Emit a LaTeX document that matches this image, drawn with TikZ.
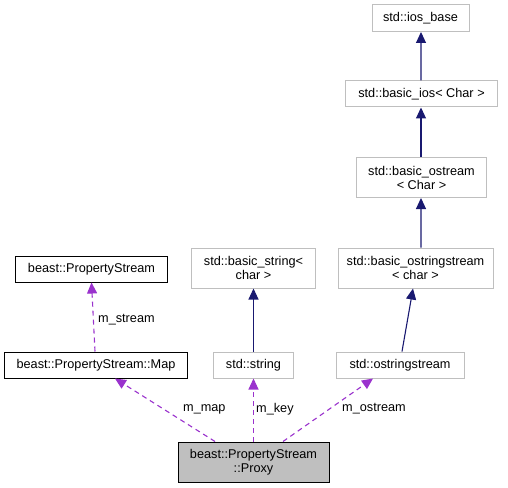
\documentclass[tikz,border=0pt]{standalone}
\usepackage{fontspec}
\setmainfont{Liberation Sans}
\usetikzlibrary{arrows.meta,calc}
\definecolor{edgeblue}{HTML}{191970}
\definecolor{edgepurple}{HTML}{9A32CD}
\definecolor{boxgray}{HTML}{BFBFBF}
\begin{document}
\begin{tikzpicture}[x=1bp,y=-1bp,
  box/.style={rectangle, inner sep=0pt, align=center, font=\fontsize{12.7bp}{14bp}\selectfont, line width=1bp},
  gbox/.style={box, draw=boxgray},
  kbox/.style={box, draw=black},
  inh/.style={draw=edgeblue, line width=1.1bp, -{Triangle[length=11bp,width=10bp,fill=edgeblue]}},
  use/.style={draw=edgepurple, line width=1.1bp, dash pattern=on 5bp off 4bp, -{Triangle[length=11bp,width=10bp,fill=edgepurple]}},
  lbl/.style={font=\fontsize{12.7bp}{14bp}\selectfont, inner sep=0pt, anchor=west}]
\useasboundingbox (0,0) rectangle (508,488);
% nodes
\node[gbox, minimum width=97bp, minimum height=27bp] (ios) at (420.5,18) {std::ios\_base};
\node[gbox, minimum width=152bp, minimum height=26bp] (bios) at (421.5,94) {std::basic\_ios< Char >};
\node[gbox, minimum width=130bp, minimum height=40bp] (bost) at (421.5,177.5) {std::basic\_ostream\\< Char >};
\node[gbox, minimum width=155bp, minimum height=40bp] (bostr) at (415.5,268) {std::basic\_ostringstream\\< char >};
\node[gbox, minimum width=128bp, minimum height=26bp] (ostr) at (400,365) {std::ostringstream};
\node[gbox, minimum width=124bp, minimum height=40bp] (bstr) at (253.5,268) {std::basic\_string<\\char >};
\node[gbox, minimum width=80bp, minimum height=26bp] (str) at (253.5,365) {std::string};
\node[kbox, minimum width=151bp, minimum height=26bp] (ps) at (91.5,269) {beast::PropertyStream};
\node[kbox, minimum width=182bp, minimum height=26bp] (map) at (96,365) {beast::PropertyStream::Map};
\node[kbox, fill=boxgray, minimum width=151bp, minimum height=40bp] (proxy) at (253.5,462) {beast::PropertyStream\\::Proxy};
% inheritance edges
\draw[inh] ([xshift=-0.5bp]bios.north) -- ([xshift=0.5bp]ios.south);
\draw[inh] ([xshift=-0.5bp]bost.north) -- ([xshift=-0.5bp]bios.south);
\draw[inh] ([xshift=5.5bp]bostr.north) -- ([xshift=-0.5bp]bost.south);
\draw[inh] ([xshift=2bp]ostr.north) -- ([xshift=-2.5bp]bostr.south);
\draw[inh] (str.north) -- (bstr.south);
% usage edges
\draw[use] ([xshift=-1bp]map.north) -- (ps.south);
\draw[use] ([xshift=-38.5bp]proxy.north) -- ([xshift=19bp]map.south);
\draw[use] (proxy.north) -- (str.south);
\draw[use] ([xshift=29.5bp]proxy.north) -- ([xshift=-27bp]ostr.south);
% labels
\node[lbl] (lstream) at (98,320) {m\_stream};
\node[lbl] (lmap) at (183,409) {m\_map};
\node[lbl] (lkey) at (256,409) {m\_key};
\node[lbl] (lostream) at (342,409) {m\_ostream};
\end{tikzpicture}
\end{document}
